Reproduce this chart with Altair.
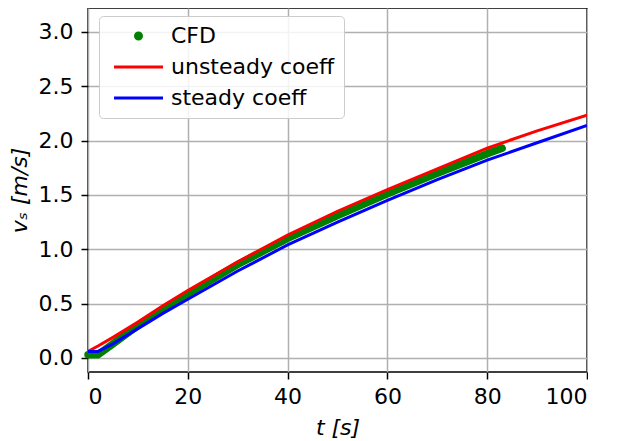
import altair as alt
import pandas as pd

# unsteady coefficient model (red)
t_uns = [0, 2, 5, 10, 15, 20, 30, 40, 50, 60, 70, 80, 90, 100]
v_uns = [0.06, 0.11, 0.19, 0.33, 0.48, 0.62, 0.885, 1.13, 1.35, 1.55, 1.74, 1.93, 2.09, 2.235]

# steady coefficient model (blue)
t_st = [0, 2, 5, 10, 15, 20, 30, 40, 50, 60, 70, 80, 90, 100]
v_st = [0.06, 0.06, 0.13, 0.27, 0.41, 0.54, 0.80, 1.04, 1.25, 1.45, 1.64, 1.82, 1.98, 2.14]

# CFD samples (green)
t_cfd = [0, 2, 5, 10, 15, 20, 30, 40, 50, 60, 70, 80, 83]
v_cfd = [0.03, 0.03, 0.13, 0.30, 0.45, 0.59, 0.86, 1.10, 1.31, 1.51, 1.70, 1.88, 1.93]

names = ["CFD", "unsteady coeff", "steady coeff"]
colors = ["#008000", "#ff0000", "#0000ff"]

x_ticks = [0, 20, 40, 60, 80, 100]
y_ticks = [0.0, 0.5, 1.0, 1.5, 2.0, 2.5, 3.0]

df = pd.concat([
    pd.DataFrame({"t": t_cfd, "v": v_cfd, "series": names[0]}),
    pd.DataFrame({"t": t_uns, "v": v_uns, "series": names[1]}),
    pd.DataFrame({"t": t_st, "v": v_st, "series": names[2]}),
])

FONT = "DejaVu Sans"
FS = 22

# legend glyphs (custom symbol paths, unit = sqrt(size)/2 px)
DOT = "M3.3,0A0.6,0.6 0 1,0 4.5,0A0.6,0.6 0 1,0 3.3,0Z"
LINE = "M-1,0H8.8"

x = alt.X("t:Q", scale=alt.Scale(domain=[0, 100], nice=False, zero=False),
          axis=alt.Axis(values=x_ticks, title="t [s]", format="d",
                        labelPadding=7, titlePadding=10))
y = alt.Y("v:Q", scale=alt.Scale(domain=[-0.129, 3.22], nice=False, zero=False),
          axis=alt.Axis(values=y_ticks, title="vₛ [m/s]", format=".1f",
                        labelPadding=8, titlePadding=7))

legend = alt.Legend(
    title=None, orient="none", legendX=11, legendY=8,
    fillColor="rgba(255,255,255,0.85)", strokeColor="#cccccc", cornerRadius=4,
    padding=9, labelFontSize=FS, labelFont=FONT, labelColor="#000000",
    labelLimit=400, rowPadding=9, symbolSize=100, symbolStrokeWidth=3,
    labelOffset=41,
)

stroke = alt.Stroke("series:N", scale=alt.Scale(domain=names, range=colors), legend=legend)
fill = alt.Fill("series:N", scale=alt.Scale(domain=names, range=colors), legend=legend)
shape = alt.Shape("series:N", scale=alt.Scale(domain=names, range=[DOT, LINE, LINE]), legend=legend)

base = alt.Chart(df)

cfd = base.transform_filter(alt.datum.series == "CFD").mark_line(
    strokeWidth=7.5, strokeCap="round", strokeJoin="round"
).encode(x=x, y=y, stroke=stroke)

lines = base.transform_filter(alt.datum.series != "CFD").mark_line(
    strokeWidth=3, clip=True
).encode(x=x, y=y, stroke=stroke)

# legend carrier (draws nothing)
keys = base.transform_filter(alt.datum.series == "none").mark_point(
    filled=True, opacity=1, size=100, strokeWidth=3
).encode(x=x, y=y, fill=fill, stroke=stroke, shape=shape)

chart = alt.layer(cfd, lines, keys).properties(
    width=499, height=364,
    padding={"left": 0, "top": 0, "right": 0, "bottom": 0},
).configure_view(
    stroke="#000000", strokeWidth=1.5
).configure_axis(
    grid=True, gridColor="#b0b0b0", gridWidth=1.5,
    domain=False, tickColor="#000000", tickSize=7, tickWidth=1.5,
    labelFont=FONT, labelFontSize=FS, labelColor="#000000",
    titleFont=FONT, titleFontSize=FS, titleColor="#000000",
    titleFontStyle="italic", titleFontWeight="normal",
)

chart.save("out.html", embed_options={"renderer": "svg", "actions": False})
